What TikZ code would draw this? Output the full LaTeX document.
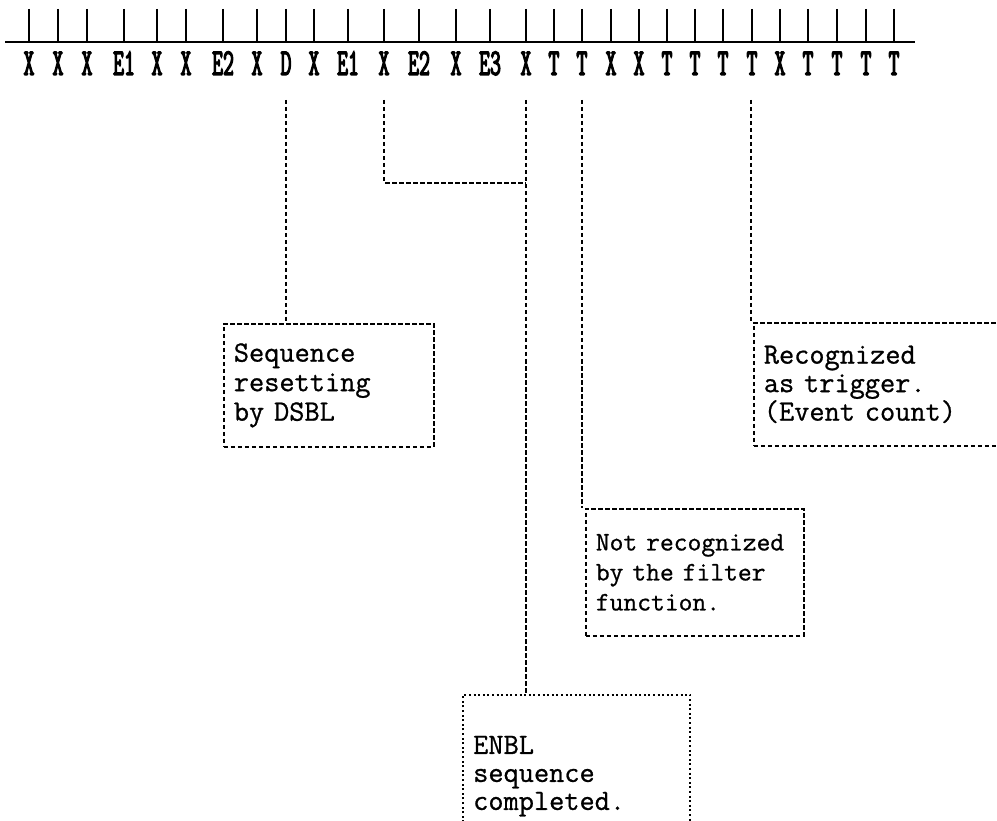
\documentclass[tikz,border=0pt]{standalone}
\usepackage{fontspec}
\newfontfamily\lblfont[FakeStretch=0.56,FakeBold=3]{Latin Modern Mono}
\newfontfamily\boxfont[FakeBold=0.8]{Latin Modern Mono}
\begin{document}
\begin{tikzpicture}[x=1pt,y=-1pt,
  tick/.style={line width=1.4pt},
  axis/.style={line width=1.4pt},
  lbl/.style={anchor=base,inner sep=0pt,font=\lblfont\fontsize{38}{38}\selectfont},
  conn/.style={line width=1.7pt,dash pattern=on 4.5pt off 2.5pt},
  note/.style={draw,line width=1.7pt,dash pattern=on 4.5pt off 2.5pt,align=left,
    inner xsep=10pt,inner ysep=0pt,anchor=north west,
    font=\boxfont\fontsize{29.5}{29.5}\selectfont},
  dotnote/.style={align=left,inner xsep=10pt,inner ysep=0pt,anchor=north west,
    font=\boxfont\fontsize{29.5}{28}\selectfont},
  dotline/.style={line width=2pt,dash pattern=on 2pt off 2.6pt}
]
\useasboundingbox (0,0) rectangle (997,821);
\clip (0,0) rectangle (997,821);

% axis and ticks
\coordinate (axL) at (5,42);
\coordinate (axR) at (915,42);
\draw[axis] (axL) -- (axR);
\foreach \x/\t [count=\i] in {29/X,58/X,87/X,124/E1,157/X,186/X,223/E2,257/X,286/D,314/X,348/E1,384/X,419/E2,456/X,490/E3,526/X,554/T,582/T,611/X,639/X,667/T,695/T,723/T,752/T,780/X,808/T,837/T,866/T,894/T}{
  \draw[tick] (\x,9) -- (\x,42);
  \node[lbl] (l\i) at (\x,75) {\t};
}

% notes
\node[note,text width=190pt,minimum height=123pt] (seq) at (223,323)
  {Sequence\\resetting\\by DSBL};
\node[note,text width=198pt,minimum height=127pt,font=\boxfont\fontsize{26.8}{30}\selectfont] (nrec) at (585,508)
  {Not recognized\\by the filter\\function.};
\node[dotnote,text width=207pt,minimum height=150pt] (enbl) at (463,695)
  {\rule{0pt}{30pt}ENBL\\sequence\\completed.};
\draw[dotline] (enbl.south west) -- (enbl.north west) -- (enbl.north east) -- (enbl.south east);
\node[note,text width=260pt,minimum height=123pt,font=\boxfont\fontsize{29.5}{28.5}\selectfont] (rec) at (753,322)
  {Recognized\\as trigger.\\(Event count)};

% connectors
\coordinate (cD) at (286,100);
\coordinate (cA) at (384,100);
\coordinate (cB) at (526,100);
\coordinate (cT) at (582,100);
\coordinate (cR) at (751,100);
\coordinate (knee) at (526,183);
\draw[conn] (cD) -- (cD |- seq.north);
\draw[conn] (cA) -- (cA |- knee) -- (knee);
\draw[conn] (cB) -- (cB |- enbl.north);
\draw[conn] (cT) -- (cT |- nrec.north);
\draw[conn] (cR) -- (cR |- rec.north);
\end{tikzpicture}
\end{document}
